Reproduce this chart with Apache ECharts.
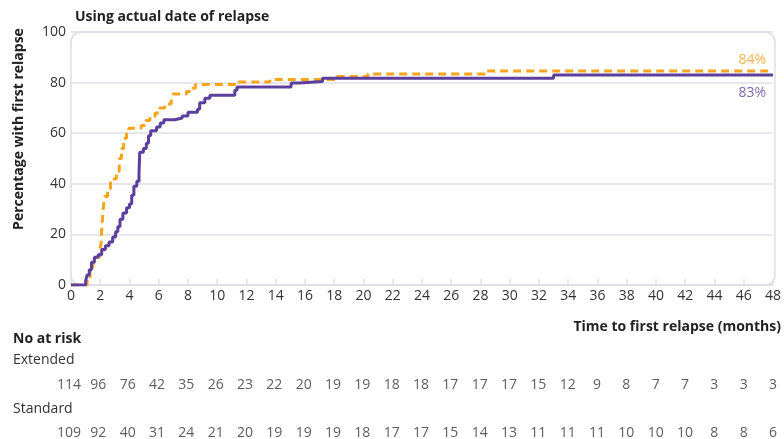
<!DOCTYPE html>
<html>
<head>
<meta charset="utf-8">
<script src="https://cdn.jsdelivr.net/npm/echarts@6/dist/echarts.min.js"></script>
<style>html,body{margin:0;padding:0;background:#fff}#c{width:784px;height:439px}</style>
</head>
<body>
<div id="c"></div>
<script>
// ---- Data ----
const titleText = 'Using actual date of relapse';
const yAxisTitle = 'Percentage with first relapse';
const xAxisTitle = 'Time to first relapse (months)';
const groupNames = ['Extended', 'Standard'];
const endLabels = ['84%', '83%'];

// Kaplan-Meier style curves [month, percent]
const extendedCurve = [
  [0,0],[1.1,2],[1.3,6],[1.5,9],[1.75,11],[1.95,14],[2.05,16],[2.1,22],[2.2,30],[2.3,35],
  [2.5,38],[2.7,41],[2.95,42],[3.1,45],[3.3,50],[3.45,54],[3.6,58],[3.8,61],[3.95,62],
  [4.8,63],[5.1,65],[5.4,66.7],[5.75,68],[6.05,70],[6.4,71.5],[6.85,73.5],[6.97,75.5],
  [7.9,76.5],[8.3,77.8],[8.5,79.2],[11.3,80.2],[13.6,81.2],[18.2,82.4],[20.3,83.4],
  [28.3,84.6],[48,84.6]
];
const standardCurve = [
  [0,0],[1.0,1.5],[1.1,4],[1.25,6],[1.4,9],[1.6,11],[1.85,12],[2.1,14],[2.35,15.5],
  [2.6,17],[2.85,19],[3.05,21],[3.2,23],[3.35,26],[3.55,28.5],[3.8,30.5],[4.0,32],
  [4.15,35.5],[4.3,39],[4.5,41],[4.65,44],[4.7,52.5],[4.95,54],[5.15,56],[5.3,59],
  [5.45,61],[5.85,62.5],[6.1,64],[6.35,65.3],[7.1,66],[7.6,66.8],[8.0,68.3],[8.65,69.5],
  [8.8,72],[9.15,73.8],[9.5,75],[11.2,77],[11.35,78.3],[15.05,79.8],[15.6,80.4],
  [17.2,81.7],[33.0,83],[48,83]
];

// Number at risk
const atRiskMonths = [0,2,4,6,8,10,12,14,16,18,20,22,24,26,28,30,32,34,36,38,40,42,44,46,48];
const extendedAtRisk = [114,96,76,42,35,26,23,22,20,19,19,18,18,17,17,17,15,12,9,8,7,7,3,3,3];
const standardAtRisk = [109,92,40,31,24,21,20,19,19,19,18,17,17,15,14,13,11,11,11,10,10,10,8,8,6];

// ---- Styles ----
const FONT = 'Open Sans';
const ORANGE = '#F7A51C';
const PURPLE = '#5B3F9D';
const ORANGE_LBL = '#F5B553';
const PURPLE_LBL = '#7A6BB3';
const GRIDC = '#DCDFE6';
const TXT = '#333';

function withEndLabel(curve, text, pos, color, offset) {
  return curve.map((p, i) => {
    if (i !== curve.length - 1) return p;
    return {
      value: p,
      label: {
        show: true, position: pos, formatter: text, align: 'right',
        color: color, fontSize: 14, fontFamily: FONT, offset: offset
      }
    };
  });
}

const chart = echarts.init(document.getElementById('c'), null, {renderer: 'canvas'});
const option = {
  animation: false,
  textStyle: {fontFamily: FONT},
  title: {
    text: titleText, left: 70, top: 5,
    textStyle: {fontFamily: FONT, fontSize: 14, fontWeight: 'bold', color: '#222'}
  },
  grid: [
    {left: 71, right: 9, top: 32, bottom: 154},
    {left: 71, right: 9, top: 385, height: 48}
  ],
  xAxis: [
    {
      type: 'value', gridIndex: 0, min: 0, max: 48, interval: 2,
      axisLine: {show: true, lineStyle: {color: GRIDC, width: 1.5}},
      axisTick: {show: true, inside: true, length: 6, lineStyle: {color: GRIDC, width: 1.5}},
      axisLabel: {fontSize: 14, color: TXT, margin: 4, fontFamily: FONT},
      splitLine: {show: false}
    },
    {
      type: 'value', gridIndex: 1, min: 0, max: 48, show: false
    }
  ],
  yAxis: [
    {
      type: 'value', gridIndex: 0, min: 0, max: 100, interval: 20,
      axisLine: {show: false}, axisTick: {show: false},
      axisLabel: {fontSize: 14, color: TXT, margin: 5, fontFamily: FONT},
      splitLine: {show: true, lineStyle: {color: GRIDC, width: 1.5}}
    },
    {type: 'value', gridIndex: 1, min: 0, max: 1, show: false}
  ],
  graphic: [
    {type: 'rect', z: -1, silent: true,
     shape: {x: 71, y: 32, width: 704, height: 253, r: 10},
     style: {fill: 'none', stroke: GRIDC, lineWidth: 1.5}},
    {type: 'text', x: 19, y: 129, rotation: Math.PI / 2,
     style: {text: yAxisTitle, fontFamily: FONT, fontSize: 14, fontWeight: 'bold', fill: '#222',
             textAlign: 'center', textVerticalAlign: 'middle'}},
    {type: 'text', x: 781, y: 327,
     style: {text: xAxisTitle, fontFamily: FONT, fontSize: 14, fontWeight: 'bold', fill: '#222',
             textAlign: 'right', textVerticalAlign: 'middle'}},
    {type: 'text', x: 13, y: 339,
     style: {text: 'No at risk', fontFamily: FONT, fontSize: 14, fontWeight: 'bold', fill: '#222',
             textAlign: 'left', textVerticalAlign: 'middle'}},
    {type: 'text', x: 13, y: 360,
     style: {text: groupNames[0], fontFamily: FONT, fontSize: 14, fill: TXT,
             textAlign: 'left', textVerticalAlign: 'middle'}},
    {type: 'text', x: 13, y: 409,
     style: {text: groupNames[1], fontFamily: FONT, fontSize: 14, fill: TXT,
             textAlign: 'left', textVerticalAlign: 'middle'}}
  ],
  series: [
    {
      name: groupNames[0], type: 'line', step: 'end', xAxisIndex: 0, yAxisIndex: 0,
      symbol: 'circle', symbolSize: 0, showSymbol: true, showAllSymbol: true, z: 3,
      lineStyle: {color: ORANGE, width: 3, type: [8, 5]},
      itemStyle: {color: ORANGE},
      data: withEndLabel(extendedCurve, endLabels[0], 'top', ORANGE_LBL, [-7, 1])
    },
    {
      name: groupNames[1], type: 'line', step: 'end', xAxisIndex: 0, yAxisIndex: 0,
      symbol: 'circle', symbolSize: 0, showSymbol: true, showAllSymbol: true, z: 4,
      lineStyle: {color: PURPLE, width: 3},
      itemStyle: {color: PURPLE},
      data: withEndLabel(standardCurve, endLabels[1], 'bottom', PURPLE_LBL, [-7, 6])
    },
    {
      type: 'scatter', xAxisIndex: 1, yAxisIndex: 1, symbolSize: 0, silent: true,
      label: {show: true, position: 'inside', offset: [-2, 0], color: TXT, fontSize: 14, fontFamily: FONT,
              formatter: p => String(p.data[2])},
      data: atRiskMonths.map((m, i) => [m, 1, extendedAtRisk[i]])
    },
    {
      type: 'scatter', xAxisIndex: 1, yAxisIndex: 1, symbolSize: 0, silent: true,
      label: {show: true, position: 'inside', offset: [-2, 0], color: TXT, fontSize: 14, fontFamily: FONT,
              formatter: p => String(p.data[2])},
      data: atRiskMonths.map((m, i) => [m, 0, standardAtRisk[i]])
    }
  ]
};
chart.setOption(option);
</script>
</body>
</html>
